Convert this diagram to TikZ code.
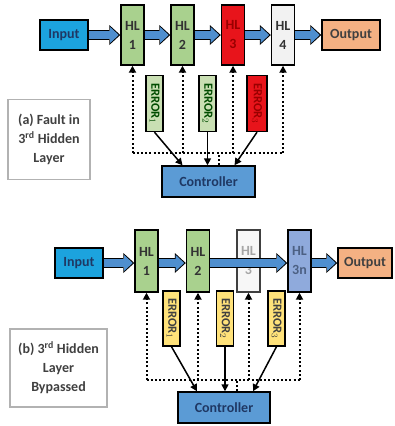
\documentclass[tikz,border=0pt]{standalone}
\usepackage{fontspec}
\setmainfont{Carlito}
\usetikzlibrary{arrows.meta}
\definecolor{inblue}{HTML}{1CA3DE}
\definecolor{navy}{HTML}{1F3864}
\definecolor{hlgreen}{HTML}{A9D18E}
\definecolor{errgreen}{HTML}{C9DFB3}
\definecolor{hlred}{HTML}{E8141B}
\definecolor{hlblue}{HTML}{8FAADC}
\definecolor{outorange}{HTML}{F4B183}
\definecolor{flowblue}{HTML}{4F8FCF}
\definecolor{ctlblue}{HTML}{5B9BD5}
\definecolor{erryellow}{HTML}{FFE27A}
\newcommand\bigbf{\fontsize{14}{19}\selectfont\bfseries}
\newcommand\errbf{\fontsize{12.5}{13}\selectfont\bfseries}
\begin{document}
\begin{tikzpicture}[x=1pt,y=-1pt,
    box/.style={draw=black, line width=1.4pt, align=center, inner sep=0pt, font=\bigbf},
    io/.style={box, minimum width=48pt, minimum height=30pt},
    hl/.style={box, minimum width=23pt, minimum height=60pt, fill=hlgreen, text=black!80},
    err/.style={box, minimum width=17pt, minimum height=56pt, font=\errbf},
    ctl/.style={box, minimum width=93pt, minimum height=31pt, fill=ctlblue, text=navy},
    tag/.style={draw=gray!60, line width=1.2pt, align=center, font=\bigbf, text=black!75, inner sep=0pt},
    flow/.style={draw=flowblue, line width=7.5pt, shorten >=1.6pt,
        -{Triangle[length=8.5pt,width=16pt,line width=0pt]},
        preaction={draw=black, line width=10.5pt, shorten >=0pt,
        -{Triangle[length=11pt,width=20pt,line width=0pt]}}},
    ctrl/.style={line width=2pt, dash pattern=on 2pt off 2.2pt},
    ctrlup/.style={ctrl, -{Triangle[length=7pt,width=7pt]}},
    sig/.style={line width=1.5pt, -{Triangle[length=7pt,width=7pt]}}]
\useasboundingbox (0,0) rectangle (395,426);

% (a) fault in the third hidden layer
\node[io, fill=inblue, text=navy] (inA) at (64,35) {Input};
\node[hl] (hlA1) at (132.5,35) {HL\\1};
\node[hl] (hlA2) at (182.5,35) {HL\\2};
\node[hl, fill=hlred, text=red!60!black] (hlA3) at (233,35) {HL\\3};
\node[hl, fill=black!5] (hlA4) at (283,35) {HL\\4};
\node[io, minimum width=58pt, fill=outorange, text=black!75] (outA) at (351,35) {Output};
\draw[flow] (inA) -- (hlA1);
\draw[flow] (hlA1) -- (hlA2);
\draw[flow] (hlA2) -- (hlA3);
\draw[flow] (hlA3) -- (hlA4);
\draw[flow] (hlA4) -- (outA);

\node[err, fill=errgreen, text=black!70!green] (errA1) at (154.5,103.5) {\rotatebox{-90}{ERROR$_1$}};
\node[err, fill=errgreen, text=black!70!green] (errA2) at (207.5,103.5) {\rotatebox{-90}{ERROR$_2$}};
\node[err, minimum width=20pt, fill=hlred, text=red!60!black] (errA3) at (257,103.5) {\rotatebox{-90}{ERROR$_3$}};
\node[ctl] (ctlA) at (208.5,181.5) {Controller};
\coordinate (busA) at (0,153);

\draw[ctrl] (hlA1.south |- busA) -- (hlA4.south |- busA);
\draw[ctrl] ([xshift=10pt]ctlA.north) -- ([xshift=10pt]ctlA.north |- busA);
\foreach \n in {1,...,4}
  \draw[ctrlup] (hlA\n.south |- busA) -- (hlA\n.south);
\draw[sig] (errA1.south) -- ([xshift=-26pt]ctlA.north);
\draw[sig] (errA2.south) -- (errA2.south |- ctlA.north);
\draw[sig] (errA3.south) -- ([xshift=26pt]ctlA.north);

\node[tag, minimum width=82pt, minimum height=80pt] (tagA) at (49,139.5)
  {(a) Fault in\\3\textsuperscript{rd} Hidden\\Layer};

% (b) third hidden layer bypassed
\node[io, fill=inblue, text=navy] (inB) at (79,263) {Input};
\node[hl, minimum height=62pt] (hlB1) at (146.5,261) {HL\\1};
\node[hl, minimum height=62pt] (hlB2) at (198,261) {HL\\2};
\node[hl, minimum height=62pt, fill=black!3, draw=black!75, text=black!35] (hlB3) at (248.5,261) {HL\\3};
\node[hl, minimum height=62pt, fill=hlblue, text=navy!80] (hlB4) at (299.5,261) {HL\\3n};
\node[io, minimum width=54pt, fill=outorange, text=black!75] (outB) at (365,263) {Output};
\draw[flow] (inB) -- (inB -| hlB1.west);
\draw[flow] (hlB1.east |- inB) -- (inB -| hlB2.west);
\draw[flow] (hlB2.east |- inB) -- (inB -| hlB4.west);
\draw[flow] (hlB4.east |- inB) -- (outB);

\node[err, minimum height=55pt, fill=erryellow, text=black!75] (errB1) at (171.5,318.5) {\rotatebox{-90}{ERROR$_1$}};
\node[err, minimum height=55pt, fill=erryellow, text=black!75] (errB2) at (225,318.5) {\rotatebox{-90}{ERROR$_2$}};
\node[err, minimum height=55pt, fill=erryellow, text=black!75] (errB3) at (276.5,318.5) {\rotatebox{-90}{ERROR$_3$}};
\node[ctl, minimum width=92pt] (ctlB) at (224,407.5) {Controller};
\coordinate (busB) at (0,380);

\draw[ctrl] (hlB1.south |- busB) -- (hlB4.south |- busB);
\draw[ctrl] ([xshift=13pt]ctlB.north) -- ([xshift=13pt]ctlB.north |- busB);
\foreach \n in {1,...,4}
  \draw[ctrlup] (hlB\n.south |- busB) -- (hlB\n.south);
\draw[sig] (errB1.south) -- ([xshift=-27pt]ctlB.north);
\draw[sig] (errB2.south) -- (errB2.south |- ctlB.north);
\draw[sig] (errB3.south) -- ([xshift=29pt]ctlB.north);

\node[tag, minimum width=97pt, minimum height=78pt] (tagB) at (58.5,368)
  {(b) 3\textsuperscript{rd} Hidden\\Layer\\Bypassed};
\end{tikzpicture}
\end{document}
